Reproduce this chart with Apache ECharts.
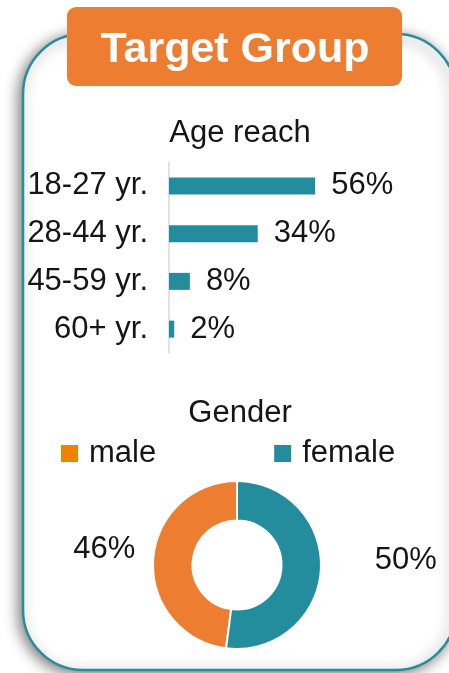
<!DOCTYPE html>
<html>
<head>
<meta charset="utf-8">
<script src="https://cdn.jsdelivr.net/npm/echarts@6/dist/echarts.min.js"></script>
<style>
  html, body { margin: 0; padding: 0; background: #ffffff; }
  #chart { width: 449px; height: 673px; }
</style>
</head>
<body>
<div id="chart"></div>
<script>
// Age reach (share of audience per age band)
const ageBands = ['18-27 yr.', '28-44 yr.', '45-59 yr.', '60+ yr.'];
const ageShares = [56, 34, 8, 2];

// Gender split
const genderNames = ['male', 'female'];
const genderShares = [46, 50];

const TEAL = '#238D9D';
const ORANGE = '#ED7D31';
const FONT = '"Liberation Sans", Arial, sans-serif';
const TEXT = '#151515';
const FS = 31;

const chart = echarts.init(document.getElementById('chart'), null, { renderer: 'canvas' });

chart.setOption({
  animation: false,
  backgroundColor: '#ffffff',
  textStyle: { fontFamily: FONT },
  graphic: [
    {
      type: 'rect',
      z: -10,
      shape: { x: 23, y: 34, width: 433, height: 636, r: 60 },
      style: {
        fill: '#ffffff',
        stroke: '#2A8D9C',
        lineWidth: 2.5,
        shadowBlur: 14,
        shadowColor: 'rgba(0,0,0,0.5)',
        shadowOffsetX: -3,
        shadowOffsetY: 3
      }
    },
    {
      type: 'rect',
      z: 20,
      shape: { x: 67, y: 7, width: 335, height: 79, r: 9 },
      style: { fill: ORANGE }
    },
    {
      type: 'text',
      z: 21,
      x: 235,
      y: 50,
      style: {
        text: 'Target Group',
        fill: '#ffffff',
        font: 'bold 43px ' + FONT,
        textAlign: 'center',
        textVerticalAlign: 'middle'
      }
    }
  ],
  title: [
    {
      text: 'Age reach',
      left: 235,
      top: 113,
      textAlign: 'center',
      textStyle: { fontSize: FS, fontWeight: 'normal', color: TEXT, fontFamily: FONT }
    },
    {
      text: 'Gender',
      left: 235,
      top: 393,
      textAlign: 'center',
      textStyle: { fontSize: FS, fontWeight: 'normal', color: TEXT, fontFamily: FONT }
    }
  ],
  legend: {
    data: [
      { name: genderNames[0], itemStyle: { color: '#EF8200' } },
      { name: genderNames[1], itemStyle: { color: TEAL } }
    ],
    left: 54,
    top: 433,
    icon: 'rect',
    itemWidth: 19,
    itemHeight: 19,
    itemGap: 116,
    selectedMode: false,
    textStyle: { fontSize: FS, color: TEXT, fontFamily: FONT, padding: [0, 0, 0, 5] }
  },
  grid: { left: 169, top: 162, width: 261, height: 191 },
  xAxis: { type: 'value', min: 0, max: 100, show: false },
  yAxis: {
    type: 'category',
    data: ageBands,
    inverse: true,
    axisLine: { show: true, lineStyle: { color: '#D9D9D9', width: 1.5 } },
    axisTick: { show: false },
    axisLabel: { fontSize: FS, color: TEXT, margin: 21, fontFamily: FONT }
  },
  series: [
    {
      type: 'bar',
      data: ageShares,
      barWidth: 17,
      itemStyle: { color: TEAL },
      label: {
        show: true,
        position: 'right',
        distance: 16,
        formatter: '{c}%',
        fontSize: FS,
        color: TEXT,
        fontFamily: FONT
      },
      emphasis: { disabled: true }
    },
    {
      type: 'pie',
      center: [237, 565],
      radius: [44.5, 84],
      startAngle: 90,
      clockwise: false,
      avoidLabelOverlap: false,
      itemStyle: { borderColor: '#ffffff', borderWidth: 2 },
      label: {
        show: true,
        position: 'outside',
        formatter: '{c}%',
        fontSize: FS,
        color: TEXT,
        fontFamily: FONT
      },
      labelLine: { show: false },
      labelLayout: { dy: -10 },
      emphasis: { disabled: true },
      data: [
        { name: genderNames[0], value: genderShares[0], itemStyle: { color: ORANGE }, labelLine: { length: 5, length2: 8 } },
        { name: genderNames[1], value: genderShares[1], itemStyle: { color: TEAL }, labelLine: { length: 5, length2: 44 } }
      ]
    }
  ]
});
</script>
</body>
</html>
